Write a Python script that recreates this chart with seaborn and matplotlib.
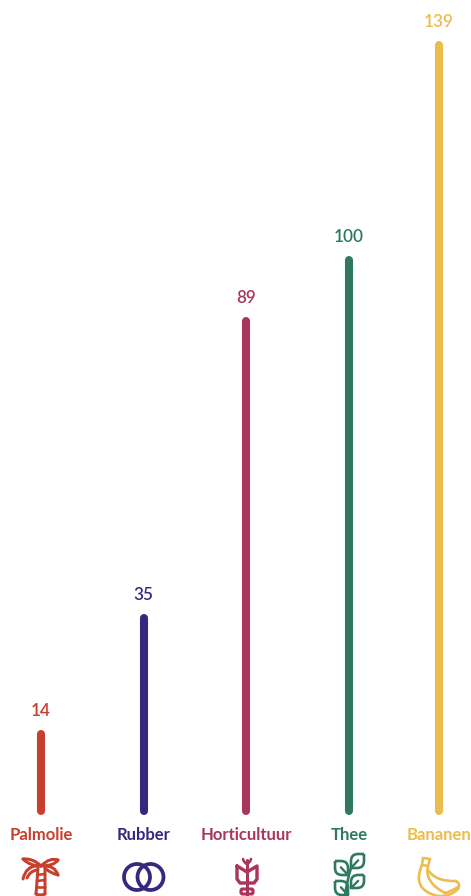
import pandas as pd
import seaborn as sns
import matplotlib.pyplot as plt
from matplotlib.patches import Circle, FancyBboxPatch, PathPatch, Polygon
from matplotlib.path import Path

categories = ["Palmolie", "Rubber", "Horticultuur", "Thee", "Bananen"]
values = [14, 35, 89, 100, 139]
colors = ["#c6402d", "#35297f", "#a8365d", "#2f7a5f", "#ecbc4e"]
x_pos = [41, 143.5, 246, 349, 439]

sns.set_theme(style="white")
plt.rcParams["font.family"] = ["Lato", "DejaVu Sans"]

df = pd.DataFrame({"x": x_pos, "waarde": values, "naam": categories, "basis": 0})
long_df = df.melt(id_vars=["x", "naam"], value_vars=["basis", "waarde"], value_name="y")

fig = plt.figure(figsize=(4.71, 8.96), dpi=100)
ax = fig.add_axes([0, 0, 1, 1])

# each stick is one line from 0 to the value, round caps give the pill shape
sns.lineplot(data=long_df, x="x", y="y", hue="naam", hue_order=categories, palette=colors,
             estimator=None, sort=False, linewidth=5.8, solid_capstyle="round",
             legend=False, ax=ax)

# 5.51 px per unit, base at y=811 px
ax.set_xlim(0, 471)
ax.set_ylim(-85 / 5.51, 811 / 5.51)
ax.axis("off")

ov = fig.add_axes([0, 0, 1, 1])
ov.set_xlim(0, 471)
ov.set_ylim(896, 0)
ov.axis("off")
ov.patch.set_alpha(0)

for x, v, name, c in zip(x_pos, values, categories, colors):
    top = 811 - v * 5.51 - 4
    ov.text(x, top - 14, str(v), color=c, ha="center", va="baseline", fontsize=12.3, fontweight="semibold")
    ov.text(x, 839.5, name, color=c, ha="center", va="baseline", fontsize=12, fontweight="bold")


def line(verts, c, lw=2.6):
    path = Path(verts, [Path.MOVETO] + [Path.LINETO] * (len(verts) - 1))
    ov.add_patch(PathPatch(path, fill=False, edgecolor=c, lw=lw * 0.72, capstyle="round", joinstyle="round"))


def curve(p0, p1, p2, c, lw=2.6):
    path = Path([p0, p1, p2], [Path.MOVETO, Path.CURVE3, Path.CURVE3])
    ov.add_patch(PathPatch(path, fill=False, edgecolor=c, lw=lw * 0.72, capstyle="round"))


# palm
c = colors[0]
curve((38, 868), (37, 882), (36, 894), c, 3)
curve((45, 868), (45, 882), (45, 894), c, 3)
curve((36, 894), (40, 896), (45, 894), c, 3)
line([(37, 875), (45, 874)], c)
line([(37, 881), (45, 880)], c)
line([(36, 887), (45, 887)], c)
curve((41, 866), (33, 858), (23, 859), c, 3)
curve((23, 859), (30, 866), (41, 866), c, 3)
curve((41, 866), (50, 857), (58, 860), c, 3)
curve((58, 860), (54, 866), (41, 866), c, 3)
curve((37, 866), (26, 866), (23, 879), c, 3)
curve((45, 866), (55, 866), (58, 875), c, 3)
curve((58, 875), (50, 873), (45, 868), c, 3)
curve((37, 870), (30, 871), (27, 878), c, 3)

# rings
c = colors[1]
ov.add_patch(Circle((137, 877), 13, fill=False, edgecolor=c, lw=2.7))
ov.add_patch(Circle((150.5, 877), 13, fill=False, edgecolor=c, lw=2.7))

# tulip
c = colors[2]
line([(237, 866), (247, 872), (257, 866), (257, 879), (254, 883), (240, 883), (237, 879), (237, 866)], c, 3.4)
line([(247, 860), (247, 896)], c, 3)
curve((243, 859), (244, 863), (247, 864), c)
curve((251, 859), (250, 863), (247, 864), c)
ov.add_patch(FancyBboxPatch((241, 889), 12, 5, boxstyle="round,pad=0,rounding_size=1.5", fill=False, edgecolor=c, lw=2.2))

# leaves: sharp tip and base, the other two corners well rounded
c = colors[3]
for x0, y0, x1, y1 in [(364, 854, 351, 868), (335, 861, 348, 875), (364, 875, 351, 888), (335, 881, 348, 895)]:
    dx = 7 if x0 > x1 else -7
    verts = [(x0, y0), (x1 + dx, y0), (x1, y0), (x1, y0 + 7), (x1, y1), (x0 - dx, y1), (x0, y1), (x0, y1 - 7), (x0, y0)]
    codes = [Path.MOVETO, Path.LINETO, Path.CURVE3, Path.CURVE3, Path.LINETO, Path.LINETO, Path.CURVE3, Path.CURVE3, Path.LINETO]
    ov.add_patch(PathPatch(Path(verts, codes), fill=False, edgecolor=c, lw=1.9, joinstyle="round"))
    ov.plot([x1, x1 + (x0 - x1) * 0.55], [y1, y1 + (y0 - y1) * 0.55], color=c, lw=1.7, solid_capstyle="round")
curve((351, 868), (347, 880), (345, 896), c, 2.6)

# banana
c = colors[4]
ov.add_patch(Polygon([(423, 858), (430, 859), (428, 866), (422, 865)], fill=False, edgecolor=c, lw=1.8))
curve((422, 865), (411, 890), (438, 896), c)
curve((428, 866), (424, 882), (445, 893), c)
curve((428, 870), (436, 882), (456, 881), c)
curve((438, 896), (450, 897), (458, 889), c)
curve((456, 881), (461, 884), (458, 889), c)
curve((445, 893), (452, 891), (458, 887), c)

fig.savefig("out.png", dpi=100)
plt.close(fig)
